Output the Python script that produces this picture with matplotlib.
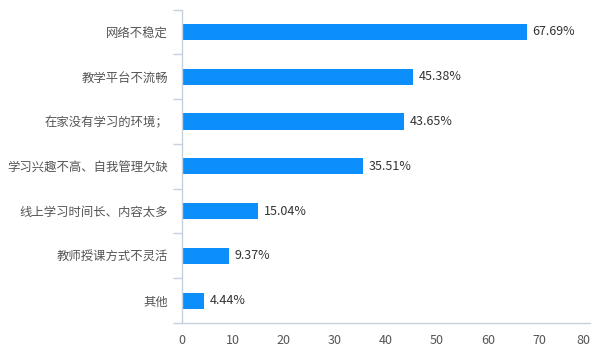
import matplotlib
matplotlib.use("Agg")
import matplotlib.pyplot as plt
import numpy as np

plt.rcParams['font.family'] = ['Noto Sans CJK SC', 'DejaVu Sans']

categories = ["网络不稳定", "教学平台不流畅", "在家没有学习的环境；", "学习兴趣不高、自我管理欠缺",
              "线上学习时间长、内容太多", "教师授课方式不灵活", "其他"]
values = [67.69, 45.38, 43.65, 35.51, 15.04, 9.37, 4.44]
xticks = [0, 10, 20, 30, 40, 50, 60, 70, 80]

bar_color = '#0d8ffb'
axis_color = '#c6d0de'

fig = plt.figure(figsize=(6.0, 3.62), dpi=100)
ax = fig.add_axes([181.5/600, 1 - 323/362, (590 - 181.5)/600, (323 - 9.5)/362])

n = len(categories)
y = np.arange(n)
ax.barh(y, values, height=0.36, color=bar_color, zorder=2)
ax.set_ylim(n - 0.5, -0.5)
ax.set_xlim(0, 80)
ax.set_xticks(xticks)
ax.set_xticklabels([str(t) for t in xticks], fontsize=9, color='#555555')
ax.get_xticklabels()[-1].set_horizontalalignment('right')
ax.tick_params(axis='x', length=0, pad=8)

ax.set_yticks(y)
ax.set_yticklabels(categories, fontsize=8.9, color='#555555')
ax.tick_params(axis='y', which='major', length=0, pad=9.5)
ax.set_yticks(np.arange(-0.5, n, 1), minor=True)
ax.tick_params(axis='y', which='minor', length=6.5, width=1, color=axis_color)

for s in ['top', 'right']:
    ax.spines[s].set_visible(False)
for s in ['left', 'bottom']:
    ax.spines[s].set_color(axis_color)
    ax.spines[s].set_linewidth(1)

for yi, v in zip(y, values):
    ax.annotate(f"{v:.2f}%", xy=(v, yi), xytext=(4, 0), textcoords='offset points',
                va='center', ha='left', fontsize=9, color='#333333')

fig.savefig("out.png", dpi=100)
